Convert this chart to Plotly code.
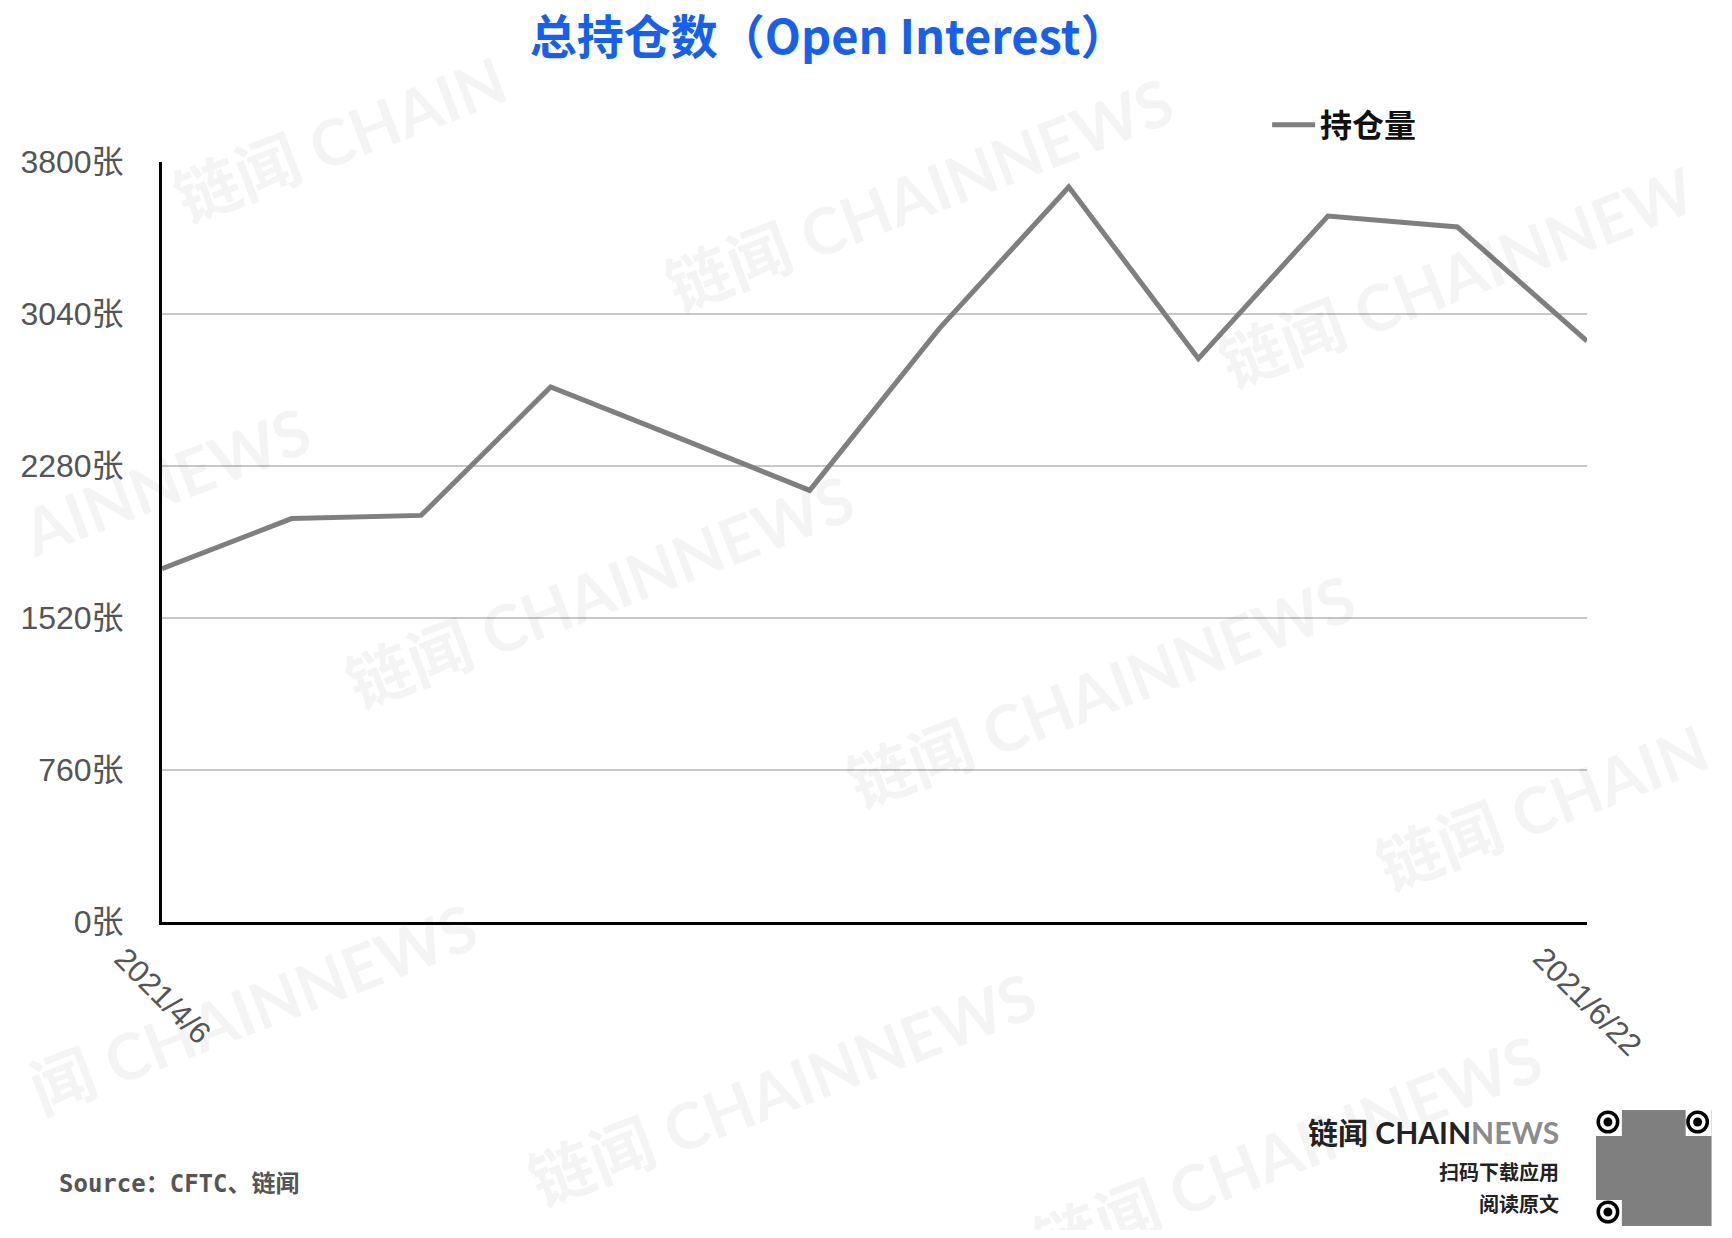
import plotly.graph_objects as go

# ---------------- data ----------------
dates = ["2021-04-06", "2021-04-13", "2021-04-20", "2021-04-27", "2021-05-04", "2021-05-11",
         "2021-05-18", "2021-05-25", "2021-06-01", "2021-06-08", "2021-06-15", "2021-06-22"]
open_interest = [1767, 2017, 2033, 2675, 2418, 2158, 2967, 3675, 2817, 3530, 3475, 2905]
series_name = "持仓量"
y_ticks = [0, 760, 1520, 2280, 3040, 3800]
y_tick_labels = ["0张", "760张", "1520张", "2280张", "3040张", "3800张"]
x_tick_dates = ["2021-04-06", "2021-06-22"]
x_tick_labels = ["2021/4/6", "2021/6/22"]
title_text = "总持仓数（Open Interest）"
source_text = "Source：CFTC、链闻"
watermark_text = "链闻 CHAINNEWS"

# ---------------- layout geometry (page px; the page body has an 8px margin) ----------------
OFF = 8
W, H = 1732 - 2 * OFF, 1238 - 2 * OFF
L, T = 157 - OFF, 162 - OFF
PW, PH = 1430, 760
R, B = W - L - PW, H - T - PH
S = 1732 / 1568  # shrunk-view -> page scale


def px(x):
    return (x - OFF - L) / PW


def py(y):
    return (H - B - (y - OFF)) / PH


fig = go.Figure()
fig.add_trace(go.Scatter(
    x=dates, y=open_interest, mode="lines", name=series_name,
    line=dict(color="#7f7f7f", width=5),
))

annotations = []

# watermarks (positions given in the 1568-wide view)
wm = [("链闻 CHAIN", 304, 125), (watermark_text, 830, 175), ("链闻 CHAINNEW", 1318, 250),
      ("AINNEWS", 146, 435), (watermark_text, 540, 535), (watermark_text, 995, 625),
      ("链闻 CHAIN", 1396, 730), ("闻 CHAINNEWS", 225, 912), (watermark_text, 705, 985),
      (watermark_text, 1165, 1042)]
for txt, cx, cy in wm:
    annotations.append(dict(
        text=txt, x=px(cx * S), y=py(cy * S), xref="paper", yref="paper",
        xanchor="center", yanchor="middle", showarrow=False, textangle=-21,
        font=dict(family="Lato, Noto Sans CJK SC", size=64, color="rgba(0,0,0,0.045)", weight="bold"),
    ))

# x tick labels (rotated)
for d, lab in zip(x_tick_dates, x_tick_labels):
    annotations.append(dict(
        text=lab, x=d, y=py(938), xref="x", yref="paper",
        xanchor="center", yanchor="top", showarrow=False, textangle=45,
        font=dict(family="Liberation Sans, Noto Sans CJK SC", size=31, color="#555555"),
    ))

# footer
annotations.append(dict(
    text=source_text, x=px(52), y=py(1184), xref="paper", yref="paper",
    xanchor="left", yanchor="middle", showarrow=False,
    font=dict(family="DejaVu Sans Mono, Noto Sans CJK SC", size=24, color="#555555", weight="bold"),
))
annotations.append(dict(
    text="链闻 CHAIN<span style='color:#8c8c8c'>NEWS</span>", x=px(1561), y=py(1132),
    xref="paper", yref="paper", xanchor="right", yanchor="middle", showarrow=False,
    font=dict(family="Lato, Noto Sans CJK SC", size=30, color="#222222", weight="bold"),
))
annotations.append(dict(
    text="扫码下载应用", x=px(1561), y=py(1171), xref="paper", yref="paper",
    xanchor="right", yanchor="middle", showarrow=False,
    font=dict(family="Noto Sans CJK SC", size=20, color="#222222", weight="bold"),
))
annotations.append(dict(
    text="阅读原文", x=px(1561), y=py(1203), xref="paper", yref="paper",
    xanchor="right", yanchor="middle", showarrow=False,
    font=dict(family="Noto Sans CJK SC", size=20, color="#222222", weight="bold"),
))

# QR code placeholder
shapes = []
qx0, qy0, qx1, qy1 = 1596, 1110, 1712, 1226
shapes.append(dict(type="rect", xref="paper", yref="paper", x0=px(qx0), x1=px(qx1),
                   y0=py(qy1), y1=py(qy0), line=dict(width=0), fillcolor="rgba(0,0,0,0.5)"))
for fx, fy in [(qx0, qy0), (qx1 - 26, qy0), (qx0, qy1 - 26)]:
    shapes.append(dict(type="rect", xref="paper", yref="paper", x0=px(fx), x1=px(fx + 26),
                       y0=py(fy + 26), y1=py(fy), line=dict(width=0), fillcolor="white"))
    cx, cy = fx + 12, fy + 12
    for r, c in [(11.5, "black"), (8, "white"), (4.5, "black")]:
        shapes.append(dict(type="circle", xref="paper", yref="paper",
                           x0=px(cx - r), x1=px(cx + r), y0=py(cy + r), y1=py(cy - r),
                           line=dict(width=0), fillcolor=c))

fig.update_layout(
    width=W, height=H,
    margin=dict(l=L, r=R, t=T, b=B),
    paper_bgcolor="white", plot_bgcolor="white",
    title=dict(text=title_text, x=px(826), xref="paper", xanchor="center",
               y=1 - (38 - OFF) / H, yref="container", yanchor="middle",
               font=dict(family="Noto Sans CJK SC", size=47, color="#1560f0", weight="bold")),
    showlegend=True,
    legend=dict(x=px(1266), y=py(125), xanchor="left", yanchor="middle", itemwidth=43,
                font=dict(family="Noto Sans CJK SC", size=32, color="#111111", weight="bold"),
                bgcolor="rgba(0,0,0,0)"),
    xaxis=dict(type="date", range=[dates[0], dates[-1]], showgrid=False, zeroline=False,
               showticklabels=False, ticks="", showline=True, linecolor="black", linewidth=3),
    yaxis=dict(range=[0, 3800], tickmode="array", tickvals=y_ticks, ticktext=y_tick_labels,
               showgrid=True, gridcolor="#c8c8c8", gridwidth=1.5, zeroline=False,
               showline=True, linecolor="black", linewidth=3, ticks="",
               ticklabelstandoff=29,
               tickfont=dict(family="Liberation Sans, Noto Sans CJK SC", size=32, color="#555555")),
    annotations=annotations,
    shapes=shapes,
)

fig.write_html("out.html")
